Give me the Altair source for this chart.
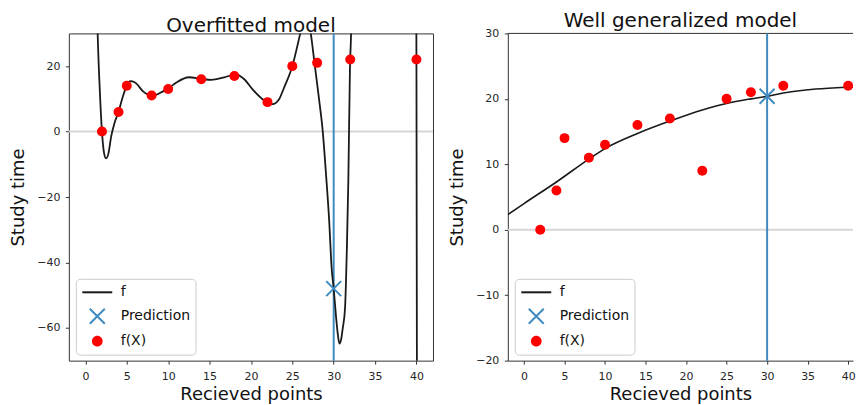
import math
import altair as alt
import pandas as pd

# ---------------- data ----------------
pts_x = [2, 4, 5, 8, 10, 14, 18, 22, 25, 28, 32, 40]
pts_y = [0, 6, 14, 11, 13, 16, 17, 9, 20, 21, 22, 22]

# overfitted polynomial curve (parts leave the view)
over_x = [1.15, 1.48, 1.75, 2.0, 2.25, 2.5, 2.8, 3.1, 3.5, 4.0, 4.5, 5.0, 5.4, 6.0,
          7.0, 8.1, 9.0, 10.0, 11.0, 12.5, 14.0, 15.2, 16.8, 18.2, 19.2, 20.2, 21.4,
          22.6, 23.4, 24.0, 25.0, 25.96, 26.6, 27.23, 27.68, 28.2, 28.68, 29.1, 29.45,
          29.76, 30.0, 30.3, 30.5, 30.69, 30.9, 31.1, 31.37, 31.6, 31.77, 31.97, 32.1,
          32.35, 36.0, 39.9, 40.0, 40.1]
over_y = [70, 30, 12, 0, -6.5, -8.2, -6.5, -1.7, 2.5, 6.0, 10.5, 14.0, 15.4, 15.0,
          12.2, 10.9, 11.8, 13.2, 15.0, 16.6, 16.1, 15.8, 16.6, 17.5, 16.0, 12.9, 9.9,
          8.4, 9.9, 13.4, 20.0, 30, 37, 30, 21, 10.5, 0, -14, -27,
          -42, -48, -57, -62, -64.8, -63.5, -60, -54, -35, -15, 20, 30,
          80, 2000, 100, 22, -150]

# well generalized (quadratic) curve
gen_x = [-2, 0, 4, 8, 10, 14, 18, 22, 25, 28, 30, 32, 36, 40, 42]
gen_y = [2.3, 4.0, 7.3, 10.8, 12.4, 14.7, 16.6, 18.3, 19.3, 20.0, 20.4, 20.9, 21.5, 21.8, 21.9]

pred_x = 30
over_pred_y = -48
gen_pred_y = 20.4
zero_y = 0

series = ["f", "Prediction", "f(X)"]
colors = ["#1a1a1a", "#3f8bc0", "#ff0000"]

over_x_domain = [-2, 42]
gen_x_domain = [-2, 40.6]          # the right panel is cut at the page edge
x_ticks = [0, 5, 10, 15, 20, 25, 30, 35, 40]
over_y_domain = [-70, 30]
over_y_ticks = [-60, -40, -20, 0, 20]
gen_y_domain = [-20, 30]
gen_y_ticks = [-20, -10, 0, 10, 20, 30]

FONT = "DejaVu Sans"
SPINE = "#333333"
SYM = 225                      # legend symbol size -> 15 px unit box
UNIT = math.sqrt(SYM) / 2      # px per path unit


def ring(r_px, n=18):
    r = r_px / UNIT
    pts = [(r * math.cos(2 * math.pi * k / n), r * math.sin(2 * math.pi * k / n)) for k in range(n)]
    return "M" + "L".join(f"{a:.3f},{b:.3f}" for a, b in pts) + "Z"


LINE_SHAPE = "M-2,0L2,0"
CROSS = "M-1,-1L1,1M1,-1L-1,1"
DISC = "".join(ring(r) for r in [0.5, 1.5, 2.5, 3.5, 4.4])
shapes = [LINE_SHAPE, CROSS, DISC]


def legend_obj():
    return alt.Legend(
        title=None,
        orient="bottom-left",
        offset=6.5,
        fillColor="white",
        strokeColor="#cccccc",
        cornerRadius=4,
        padding=5,
        labelFont=FONT,
        labelFontSize=14,
        labelColor="#111111",
        labelOffset=15,
        rowPadding=5,
        symbolOffset=8,
        symbolSize=SYM,
        symbolStrokeWidth=2,
    )


def panel(title, cx, cy, pred_y, x_domain, y_domain, y_ticks, line_w, width, open_right):
    xs = alt.Scale(domain=x_domain, nice=False, zero=False)
    ys = alt.Scale(domain=y_domain, nice=False, zero=False)
    xax = alt.Axis(values=x_ticks, title="Recieved points", domain=open_right,
                   domainColor=SPINE, domainWidth=1)
    yax = alt.Axis(values=y_ticks, title="Study time", domain=open_right,
                   domainColor=SPINE, domainWidth=1)
    X = alt.X("x:Q", scale=xs, axis=xax)
    Y = alt.Y("y:Q", scale=ys, axis=yax)
    color = alt.Color("series:N", scale=alt.Scale(domain=series, range=colors),
                      legend=legend_obj())
    shape = alt.Shape("series:N", scale=alt.Scale(domain=series, range=shapes),
                      legend=legend_obj())

    curve_df = pd.DataFrame({"x": cx, "y": cy, "series": series[0]})
    pts_df = pd.DataFrame({"x": pts_x, "y": pts_y, "series": series[2]})
    pred_df = pd.DataFrame({"x": [pred_x], "y": [pred_y], "series": series[1]})

    layers = []
    zero = alt.Chart(pd.DataFrame({"y": [zero_y]})).mark_rule(
        color="#d6d6d6", strokeWidth=2).encode(y=Y)
    layers.append(zero)
    if open_right:
        # top spine of the panel whose right side runs off the page
        top = alt.Chart(pd.DataFrame({"y": [y_domain[1]]})).mark_rule(
            color=SPINE, strokeWidth=1).encode(y=Y)
        layers.append(top)
    vline = alt.Chart(pd.DataFrame({"x": [pred_x]})).mark_rule(
        color=colors[1], strokeWidth=2).encode(x=X)
    line = alt.Chart(curve_df).mark_line(
        clip=True, strokeWidth=line_w, interpolate="monotone").encode(x=X, y=Y, color=color)
    pts = alt.Chart(pts_df).mark_circle(size=100, opacity=1, clip=True).encode(
        x=X, y=Y, color=color)
    pred = alt.Chart(pred_df).mark_point(
        size=SYM, strokeWidth=2, filled=False, opacity=1).encode(
        x=X, y=Y, color=color, shape=shape)
    layers += [vline, line, pts, pred]
    props = dict(width=width, height=328, title=title)
    if open_right:
        props["view"] = alt.ViewBackground(stroke=None)
    return alt.layer(*layers).properties(**props)


left = panel("Overfitted model", over_x, over_y, over_pred_y, over_x_domain,
             over_y_domain, over_y_ticks, 1.8, 365, False)
right = panel("Well generalized model", gen_x, gen_y, gen_pred_y, gen_x_domain,
              gen_y_domain, gen_y_ticks, 1.6, 346, True)

chart = (
    alt.hconcat(left, right, spacing=13)
    .resolve_scale(color="independent", shape="independent")
    .properties(padding={"top": 3, "left": 1, "right": 0, "bottom": 0}, background="white")
    .configure_view(stroke=SPINE, strokeWidth=1)
    .configure_axis(
        labelFont=FONT, labelFontSize=11, labelColor="#262626",
        titleFont=FONT, titleFontSize=18, titleFontWeight="normal", titleColor="#111111",
        tickColor=SPINE, tickSize=3.5, tickWidth=1,
        grid=False, labelPadding=5.5,
    )
    .configure_axisY(titlePadding=9)
    .configure_axisX(labelPadding=6, titlePadding=4.5)
    .configure_title(font=FONT, fontSize=20, fontWeight="normal", color="#111111",
                     anchor="middle", frame="group", baseline="alphabetic", offset=-4)
)

chart.save("out.html", embed_options={"renderer": "svg", "actions": False})
